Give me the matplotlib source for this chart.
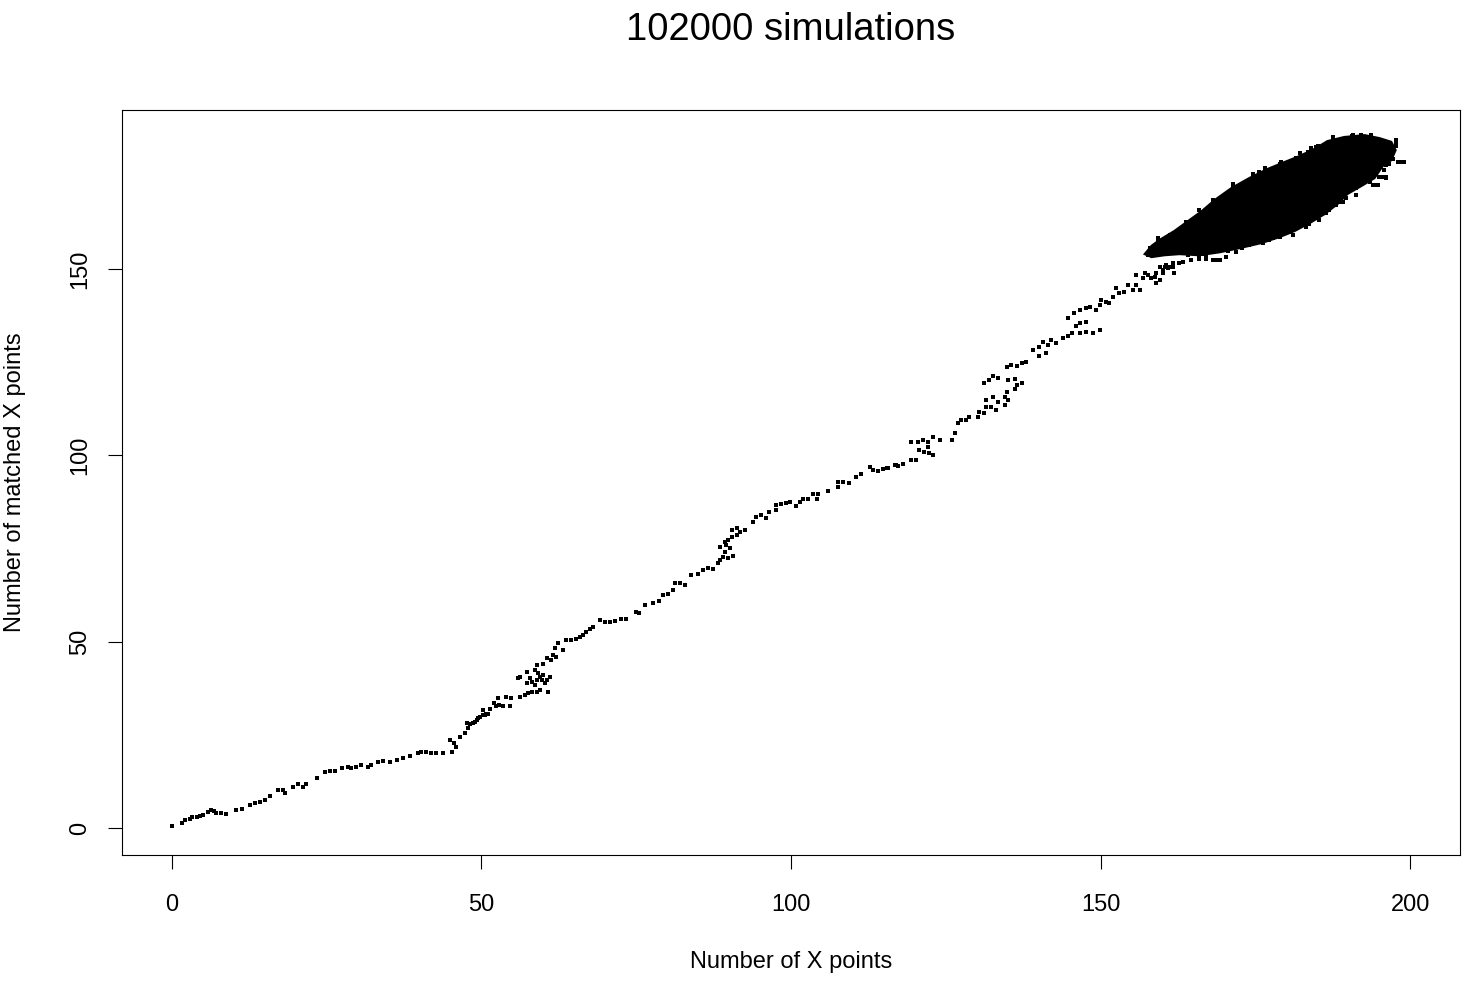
import matplotlib
matplotlib.use("Agg")
import matplotlib.pyplot as plt

plt.rcParams['font.family'] = ['Liberation Sans', 'DejaVu Sans']

title = "102000 simulations"
x_label = "Number of X points"
y_label = "Number of matched X points"
x_ticks = [0, 50, 100, 150, 200]
y_ticks = [0, 50, 100, 150]

# Individual simulation outcomes along the path
path_x = [
    0.0, 1.6, 2.2, 2.9, 3.3, 4.0, 4.5, 5.1, 5.9, 6.4, 6.8, 7.2, 8.0, 8.8, 10.4, 11.3,
    12.6, 13.4, 14.2, 15.0, 15.8, 17.2, 17.9, 18.2, 19.6, 20.4, 21.2, 21.7, 23.4, 24.7,
    25.5, 26.3, 27.4, 28.5, 29.0, 29.8, 30.6, 31.7, 32.2, 33.3, 34.1, 35.2, 36.3, 37.3,
    38.4, 39.8, 40.3, 41.1, 41.9, 42.7, 43.8, 44.9, 45.2, 45.5, 45.9, 46.5, 47.3, 47.8,
    48.1, 48.9, 49.4, 50.3, 50.8, 50.3, 51.3, 52.1,
    47.6, 48.6, 49.2, 49.7, 50.5, 51.1, 52.4, 52.9, 53.5, 52.7, 54.0, 54.8, 54.6, 56.2,
    57.0, 57.5, 58.1, 58.9, 59.4, 60.7, 57.3, 58.1, 58.9, 59.4, 60.0, 60.5, 61.0, 58.6,
    60.2, 57.8, 59.1, 59.7, 56.2, 55.9, 57.3, 58.6, 58.9, 60.0, 60.5, 61.3, 61.6, 62.1,
    61.8, 62.4, 63.2, 63.7, 64.5, 65.3, 65.9, 66.4, 66.9, 67.5, 68.0, 69.1, 69.9, 70.7,
    71.5, 72.6, 73.4, 75.0, 75.5,
    76.4, 77.7, 78.7, 79.3, 80.1, 80.9, 81.2, 82.0, 82.8, 83.9, 85.0, 85.8, 86.6, 87.4,
    88.2, 88.5, 89.0, 89.8, 90.6, 89.3, 88.5, 89.5, 90.1, 89.3, 89.8, 90.4, 91.2, 91.7,
    90.4, 91.2, 92.5, 93.8, 94.3, 95.1, 95.9, 96.5, 97.6, 97.6, 98.4, 99.2, 99.8, 100.8,
    101.4, 101.9, 102.7, 103.5, 104.3, 104.1, 105.9, 107.6, 107.6, 108.3, 109.4, 110.5,
    111.3, 112.7, 113.2, 114.0, 114.8, 115.6, 116.7, 117.2,
    115.4, 117.0, 118.0, 119.4, 120.2, 119.4, 120.5, 121.3, 122.1, 122.9, 124.0, 120.7,
    121.5, 122.3, 122.9, 122.1, 125.9, 126.4, 126.9, 127.5, 128.3, 128.8, 130.2, 130.4,
    131.2, 131.5, 132.3, 133.1, 133.4, 134.5, 135.0, 131.5, 132.6, 134.5, 134.8, 136.1,
    136.4, 137.2, 135.0, 136.1, 131.2, 132.0, 132.6, 133.4, 134.8, 135.5, 136.4, 137.2,
    138.0, 139.0, 140.1, 140.6, 141.4, 142.0, 142.8, 140.1, 141.2, 143.9, 144.7, 145.3,
    146.6, 147.6, 148.7, 149.8, 146.6, 147.6, 146.0, 144.7, 145.6, 146.6, 147.6, 148.2,
    149.2, 149.8, 150.1, 150.9, 151.4, 152.0, 152.5, 153.0, 153.8, 154.4, 155.2, 155.7,
    156.3, 156.8, 157.6, 158.1, 158.9, 159.5, 160.0, 160.8, 161.6, 161.9, 160.6,
    155.7, 157.1, 158.9, 160.0, 160.3, 161.1, 161.6, 162.7, 163.2, 164.6, 158.7, 159.5,
]
path_y = [
    0.5, 1.4, 2.0, 2.4, 2.9, 3.0, 3.3, 3.6, 4.3, 4.8, 4.6, 4.1, 3.9, 3.8, 4.8, 5.1,
    6.2, 6.6, 7.0, 7.5, 8.6, 10.2, 10.3, 9.3, 10.9, 11.8, 11.0, 11.9, 13.5, 15.1,
    15.3, 15.3, 16.0, 16.4, 16.0, 16.4, 16.9, 16.4, 16.9, 17.7, 18.0, 17.7, 18.2, 18.9,
    19.3, 20.2, 20.4, 20.4, 20.2, 20.2, 20.2, 23.6, 20.4, 22.7, 21.8, 24.3, 25.5, 26.7,
    27.9, 28.5, 29.4, 30.3, 30.7, 31.7, 31.8, 33.4,
    28.1, 28.1, 29.0, 29.9, 30.3, 30.7, 32.6, 33.0, 32.6, 34.8, 35.2, 35.0, 32.6, 35.2,
    35.7, 36.1, 36.5, 36.5, 37.0, 36.4, 38.8, 39.2, 39.7, 40.6, 41.1, 39.7, 40.4, 38.4,
    38.8, 40.2, 41.5, 39.7, 40.6, 40.2, 41.9, 42.4, 43.7, 44.1, 45.5, 45.1, 46.4, 45.9,
    48.2, 49.5, 47.8, 50.4, 50.4, 50.8, 51.3, 51.8, 52.7, 53.5, 54.0, 55.8, 55.3, 55.3,
    55.5, 56.1, 56.2, 58.0, 57.6,
    59.8, 60.4, 60.9, 62.5, 62.9, 63.9, 65.6, 65.8, 65.2, 67.9, 68.2, 69.2, 69.7, 69.4,
    71.0, 71.9, 72.8, 72.4, 73.0, 74.1, 75.5, 75.9, 75.0, 76.8, 77.3, 78.2, 78.6, 79.5,
    80.0, 80.4, 80.0, 82.2, 83.5, 84.0, 83.1, 84.9, 85.3, 86.7, 86.9, 87.2, 87.5, 86.4,
    87.5, 88.4, 88.4, 89.6, 89.7, 88.4, 90.5, 92.9, 91.4, 92.9, 92.5, 94.3,
    94.9, 96.9, 96.1, 95.8, 96.2, 96.7, 97.4, 97.1,
    96.5, 97.4, 97.7, 98.7, 98.7, 103.6, 103.6, 104.1, 103.6, 104.9, 104.1, 101.4,
    100.9, 100.7, 100.1, 102.3, 104.1, 105.9, 108.6, 109.6, 109.5, 110.3, 110.3, 111.7,
    111.3, 113.0, 113.0, 112.2, 114.4, 113.5, 114.8, 114.8, 115.7, 115.7, 117.0, 117.9,
    118.8, 119.3, 120.2, 120.4, 119.3, 120.2, 121.3, 120.7, 123.8, 124.2, 124.0, 124.7,
    125.1, 128.3, 129.1, 130.5, 129.6, 130.9, 130.2, 126.6, 127.5, 131.4, 131.9, 132.8,
    132.8, 133.1, 132.8, 133.6, 135.5, 135.9, 134.6, 136.8, 138.1, 139.0, 139.5, 139.9,
    139.0, 140.4, 141.7, 141.2, 140.8, 142.5, 144.8, 143.5, 143.9, 145.7, 144.4, 145.7,
    144.4, 147.6, 148.4, 147.6, 146.2, 147.0, 148.9, 150.2, 150.6, 148.9, 151.1,
    148.4, 148.8, 148.8, 149.7, 150.6, 150.6, 151.5, 151.5, 152.0, 152.4, 147.9, 150.6,
]

# Scattered outcomes around the rim of the dense cluster
rim_x = [
    199.0, 198.2, 197.2, 197.6, 197.7, 193.7, 187.5, 195.0, 194.5, 196.1, 193.4, 191.2,
    188.5, 188.0, 186.4, 195.6, 189.1, 186.9, 183.7, 181.0, 178.9, 180.5, 177.2, 175.1,
    169.2, 167.0, 165.9, 164.1, 168.1, 159.2, 158.0, 157.6, 158.7, 171.3, 175.6, 183.4,
    181.5, 174.5, 179.1, 187.5, 193.7, 197.7, 198.8, 198.0, 196.1, 195.8, 166.5, 170.6,
    172.8, 162.5, 161.0, 190.5, 192.0, 185.0, 184.0, 176.5,
    196.6, 197.7, 197.2, 198.5, 196.6, 195.8, 196.1, 194.7, 193.9, 191.2, 189.6, 188.5,
    186.9, 185.3, 183.2, 181.0, 178.9, 177.8, 176.2, 174.0, 171.9, 170.2, 168.6, 167.0,
    165.9, 164.3, 162.1, 160.6, 158.4, 157.6, 159.2, 161.1, 163.8, 165.9, 168.1, 171.3,
    174.5, 178.9, 182.1, 184.8, 187.5, 190.7, 193.7, 195.6,
]
rim_y = [
    178.6, 178.8, 179.5, 183.0, 184.5, 185.7, 185.2, 174.8, 172.5, 174.3, 173.4, 171.6,
    169.4, 167.2, 164.9, 174.6, 168.0, 166.3, 162.2, 159.1, 158.7, 160.0, 157.8, 156.9,
    152.4, 153.3, 152.8, 153.7, 152.4, 158.2, 155.5, 153.7, 153.7, 172.1, 176.1, 181.5,
    179.7, 174.8, 178.8, 185.5, 185.9, 183.7, 178.8, 178.8, 177.9, 176.6, 154.0, 154.8,
    155.6, 160.2, 157.9, 185.6, 186.0, 183.0, 182.4, 177.0,
    182.7, 183.7, 181.5, 178.8, 178.3, 176.6, 174.8, 172.5, 172.5, 169.8, 169.0, 168.0,
    165.8, 163.1, 161.3, 159.1, 158.7, 158.2, 156.9, 156.4, 154.6, 153.3, 152.4, 152.8,
    153.3, 154.2, 154.6, 155.1, 154.2, 153.7, 157.8, 159.1, 162.7, 165.8, 168.5, 172.9,
    175.6, 178.3, 181.0, 182.8, 185.5, 185.9, 185.9, 184.1,
]

# Outline of the region where simulated points fully overlap
core_x = [
    157.1, 158.2, 159.5, 161.9, 164.3, 166.3, 168.4, 171.1, 174.0, 176.9, 179.7, 182.1,
    184.5, 186.6, 189.3, 192.6, 195.0, 196.9, 197.6, 196.9, 195.5, 194.2, 192.1, 189.8,
    188.2, 186.1, 184.0, 181.3, 178.9, 176.0, 172.4, 169.2, 165.9, 162.7, 160.3, 158.2,
]
core_y = [
    154.0, 156.2, 157.8, 160.2, 163.1, 165.5, 168.5, 171.7, 174.4, 176.8, 178.7, 180.3,
    182.2, 184.3, 185.4, 185.9, 185.1, 184.1, 181.9, 179.2, 177.6, 174.4, 172.3, 170.1,
    167.4, 164.7, 162.6, 160.2, 158.6, 157.0, 155.6, 154.5, 153.7, 154.0, 153.7, 153.2,
]

fig = plt.figure(figsize=(14.66, 9.86), dpi=100)
ax_left, ax_bottom, ax_w, ax_h = 0.0832, 0.1329, 0.9127, 0.7555
ax = fig.add_axes([ax_left, ax_bottom, ax_w, ax_h])

ax.fill(core_x, core_y, color="black", linewidth=1.6, edgecolor="black", zorder=2)
ax.plot(path_x, path_y, linestyle="none", marker="s", markersize=2.4,
        markeredgewidth=0, color="black", zorder=3)
ax.plot(rim_x, rim_y, linestyle="none", marker="s", markersize=2.4,
        markeredgewidth=0, color="black", zorder=3)

ax.set_xlim(-8.05, 208.0)
ax.set_ylim(-7.25, 192.65)
ax.set_xticks(x_ticks)
ax.set_yticks(y_ticks)
ax.set_xticklabels([str(v) for v in x_ticks], fontsize=17)
ax.set_yticklabels([str(v) for v in y_ticks], fontsize=17, rotation=90, va="center")
ax.tick_params(axis="both", direction="out", length=10.4, width=0.8, color="black")
ax.tick_params(axis="x", pad=18)
ax.tick_params(axis="y", pad=12)
for s in ax.spines.values():
    s.set_linewidth(0.8)
    s.set_color("black")

fig.text(ax_left + ax_w / 2, 1 - 962 / 986, x_label, fontsize=17,
         ha="center", va="center")
fig.text(15 / 1466, ax_bottom + ax_h / 2, y_label, fontsize=17,
         ha="center", va="center", rotation=90)
fig.text(ax_left + ax_w / 2, 1 - 30 / 986, title, fontsize=27.5,
         ha="center", va="center")

fig.savefig("out.png", dpi=100, facecolor="white")
